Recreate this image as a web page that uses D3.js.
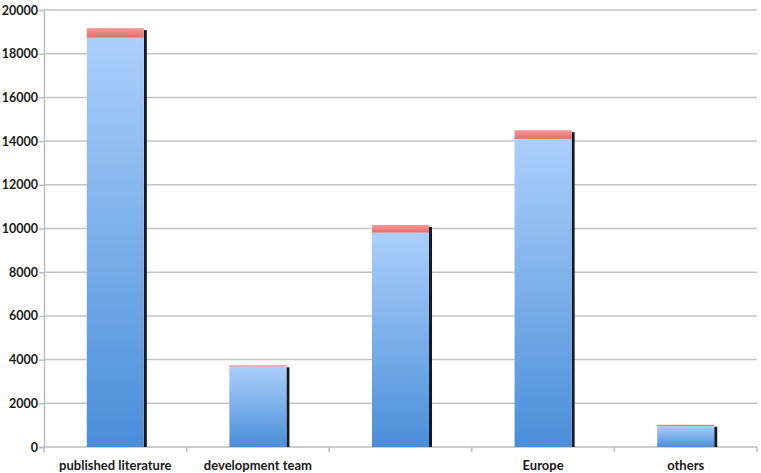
<!DOCTYPE html>
<html><head><meta charset="utf-8">
<script src="https://cdn.jsdelivr.net/npm/d3@7"></script>
<style>html,body{margin:0;padding:0;background:#fff;}svg{display:block;}</style>
</head><body>
<svg id="chart" width="761" height="473"></svg>
<script>
const categories = ["published literature", "development team", "", "Europe", "others"];
const mainValues = [18730, 3690, 9810, 14100, 960];
const topValues = [440, 50, 350, 400, 60];
const yTicks = [0, 2000, 4000, 6000, 8000, 10000, 12000, 14000, 16000, 18000, 20000];

const svg = d3.select("#chart");
const W = 761, H = 473;
const m = {left: 44, right: 4, top: 10, bottom: 26};
const x = d3.scaleBand().domain(d3.range(categories.length)).range([m.left, W - m.right]).paddingInner(0).paddingOuter(0);
const y = d3.scaleLinear().domain([0, 20000]).range([H - m.bottom, m.top]);

const defs = svg.append("defs");
const gb = defs.append("linearGradient").attr("id", "gBlue").attr("x1", 0).attr("y1", 0).attr("x2", 0).attr("y2", 1).attr("gradientUnits", "objectBoundingBox");
gb.append("stop").attr("offset", "0%").attr("stop-color", "#abcffb");
gb.append("stop").attr("offset", "100%").attr("stop-color", "#4a8ed8");
const gr = defs.append("linearGradient").attr("id", "gRed").attr("x1", 0).attr("y1", 0).attr("x2", 0).attr("y2", 1);
gr.append("stop").attr("offset", "0%").attr("stop-color", "#f59a98");
gr.append("stop").attr("offset", "100%").attr("stop-color", "#e86a68");

// gridlines
svg.append("g").selectAll("line").data(yTicks.filter(d => d > 0)).join("line")
  .attr("x1", m.left).attr("x2", W - m.right)
  .attr("y1", d => y(d)).attr("y2", d => y(d))
  .attr("stroke", "#c4c4c4").attr("stroke-width", 1.5);

// y axis
const yAxis = svg.append("g").attr("transform", `translate(${m.left},0)`)
  .call(d3.axisLeft(y).tickValues(yTicks).tickSize(5).tickPadding(1).tickFormat(d3.format("d")));
yAxis.select(".domain").attr("stroke", "#bdbdbd").attr("stroke-width", 1.5);
yAxis.selectAll(".tick line").attr("stroke", "#bdbdbd").attr("stroke-width", 1.5);
yAxis.selectAll("text").attr("font-family", "Lato, 'Open Sans', sans-serif").attr("font-weight", "bold").attr("font-size", 12.5).attr("fill", "#1a1a1a");

// x axis
const xAxisG = svg.append("g").attr("transform", `translate(0,${y(0)})`);
xAxisG.append("line").attr("x1", m.left).attr("x2", W - m.right).attr("stroke", "#bdbdbd").attr("stroke-width", 1.5);
const bounds = d3.range(categories.length + 1).map(i => i < categories.length ? x(i) : x(categories.length - 1) + x.bandwidth());
xAxisG.selectAll("line.tk").data(bounds).join("line").attr("class", "tk")
  .attr("x1", d => d).attr("x2", d => d).attr("y1", 0).attr("y2", 5)
  .attr("stroke", "#bdbdbd").attr("stroke-width", 1.5);
xAxisG.selectAll("text").data(categories).join("text")
  .attr("x", (d, i) => x(i) + x.bandwidth() / 2).attr("y", 23)
  .attr("text-anchor", "middle")
  .attr("font-family", "Lato, 'Open Sans', sans-serif").attr("font-weight", "bold").attr("font-size", 13).attr("fill", "#1a1a1a")
  .text(d => d);

// bars
const bw = x.bandwidth() * 0.4;
const bx = i => x(i) + (x.bandwidth() - bw) / 2;
const bars = svg.append("g");
bars.selectAll("rect.sh").data(mainValues).join("rect").attr("class", "sh")
  .attr("x", (d, i) => bx(i) + bw).attr("width", 3)
  .attr("y", (d, i) => y(d + topValues[i]) + 2)
  .attr("height", (d, i) => y(0) - y(d + topValues[i]) - 2)
  .attr("fill", "#111a26");
bars.selectAll("rect.main").data(mainValues).join("rect").attr("class", "main")
  .attr("x", (d, i) => bx(i)).attr("width", bw)
  .attr("y", d => y(d)).attr("height", d => y(0) - y(d))
  .attr("fill", "url(#gBlue)");
bars.selectAll("rect.top").data(topValues).join("rect").attr("class", "top")
  .attr("x", (d, i) => bx(i)).attr("width", bw)
  .attr("y", (d, i) => y(mainValues[i] + d)).attr("height", (d, i) => y(mainValues[i]) - y(mainValues[i] + d))
  .attr("fill", "url(#gRed)");
</script>
</body></html>
